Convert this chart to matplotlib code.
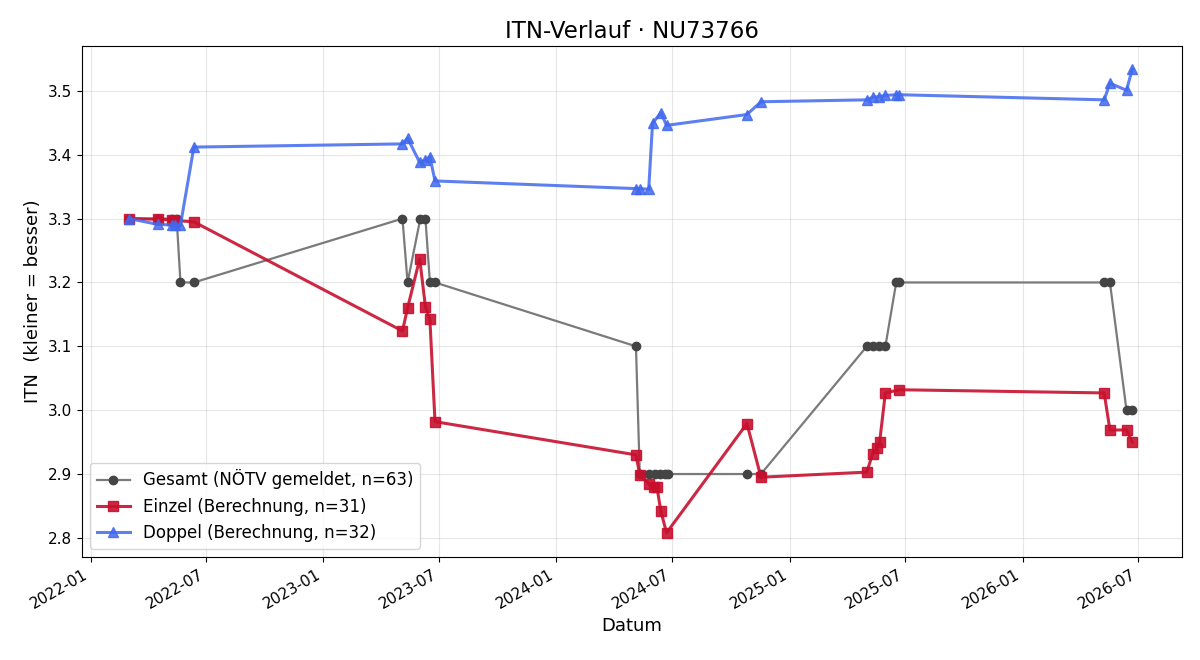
import pandas as pd
import matplotlib
matplotlib.use("Agg")
import matplotlib.pyplot as plt
import matplotlib.dates as mdates

# Gesamt (NÖTV gemeldet)
gesamt_dates = ["2022-03-03", "2022-04-16", "2022-05-08", "2022-05-16", "2022-05-22", "2022-06-12",
                "2023-05-05", "2023-05-13", "2023-06-02", "2023-06-10", "2023-06-17", "2023-06-25",
                "2024-05-05", "2024-05-11", "2024-05-25", "2024-06-04", "2024-06-11", "2024-06-19",
                "2024-06-24", "2024-10-26", "2024-11-17",
                "2025-05-02", "2025-05-11", "2025-05-21", "2025-05-31", "2025-06-17", "2025-06-22",
                "2026-05-09", "2026-05-18", "2026-06-13", "2026-06-22"]
gesamt_itn = [3.3, 3.3, 3.3, 3.3, 3.2, 3.2,
              3.3, 3.2, 3.3, 3.3, 3.2, 3.2,
              3.1, 2.9, 2.9, 2.9, 2.9, 2.9,
              2.9, 2.9, 2.9,
              3.1, 3.1, 3.1, 3.1, 3.2, 3.2,
              3.2, 3.2, 3.0, 3.0]

# Einzel (Berechnung)
einzel_dates = ["2022-03-03", "2022-04-16", "2022-05-08", "2022-05-14", "2022-06-12",
                "2023-05-05", "2023-05-13", "2023-06-01", "2023-06-10", "2023-06-17", "2023-06-25",
                "2024-05-05", "2024-05-11", "2024-05-25", "2024-06-02", "2024-06-07", "2024-06-13",
                "2024-06-22", "2024-10-26", "2024-11-17",
                "2025-05-02", "2025-05-11", "2025-05-18", "2025-05-22", "2025-05-31", "2025-06-22",
                "2026-05-09", "2026-05-18", "2026-06-13", "2026-06-22"]
einzel_itn = [3.300, 3.299, 3.298, 3.297, 3.295,
              3.124, 3.160, 3.237, 3.162, 3.142, 2.982,
              2.930, 2.899, 2.885, 2.880, 2.879, 2.842,
              2.808, 2.979, 2.895,
              2.903, 2.932, 2.940, 2.950, 3.027, 3.032,
              3.027, 2.969, 2.969, 2.950]

# Doppel (Berechnung)
doppel_dates = ["2022-03-03", "2022-04-16", "2022-05-08", "2022-05-14", "2022-05-22", "2022-06-12",
                "2023-05-05", "2023-05-13", "2023-06-01", "2023-06-10", "2023-06-17", "2023-06-25",
                "2024-05-05", "2024-05-11", "2024-05-25", "2024-05-31", "2024-06-13", "2024-06-22",
                "2024-10-26", "2024-11-17",
                "2025-05-02", "2025-05-11", "2025-05-21", "2025-05-31", "2025-06-17", "2025-06-22",
                "2026-05-09", "2026-05-18", "2026-06-13", "2026-06-22"]
doppel_itn = [3.300, 3.291, 3.290, 3.290, 3.290, 3.412,
              3.417, 3.426, 3.388, 3.392, 3.397, 3.359,
              3.347, 3.347, 3.346, 3.449, 3.466, 3.446,
              3.463, 3.483,
              3.486, 3.490, 3.491, 3.493, 3.494, 3.494,
              3.486, 3.512, 3.501, 3.534]

fig, ax = plt.subplots(figsize=(12, 6.6), dpi=100)
fig.subplots_adjust(left=0.068, right=0.985, top=0.930, bottom=0.156)

ax.plot(pd.to_datetime(gesamt_dates), gesamt_itn, color="#7a7a7a", linewidth=1.6,
        marker="o", markersize=6, markerfacecolor="#444444", markeredgecolor="#444444",
        label="Gesamt (NÖTV gemeldet, n=63)")
ax.plot(pd.to_datetime(einzel_dates), einzel_itn, color="#c8102e", alpha=0.9, linewidth=2.2,
        marker="s", markersize=7, label="Einzel (Berechnung, n=31)")
ax.plot(pd.to_datetime(doppel_dates), doppel_itn, color="#4169ee", alpha=0.85, linewidth=2.2,
        marker="^", markersize=7, label="Doppel (Berechnung, n=32)")

ax.set_title("ITN-Verlauf · NU73766", fontsize=16.5)
ax.set_xlabel("Datum", fontsize=13)
ax.set_ylabel("ITN  (kleiner = besser)", fontsize=13)
ax.set_xlim(pd.Timestamp("2021-12-18"), pd.Timestamp("2026-09-08"))
ax.set_ylim(2.770, 3.570)
ax.xaxis.set_major_locator(mdates.MonthLocator(bymonth=[1, 7]))
ax.xaxis.set_major_formatter(mdates.DateFormatter("%Y-%m"))
ax.tick_params(labelsize=11)
ax.grid(True, alpha=0.3)
ax.legend(loc="lower left", fontsize=12)
plt.setp(ax.get_xticklabels(), rotation=30, ha="right")

fig.savefig("out.png", dpi=100)
